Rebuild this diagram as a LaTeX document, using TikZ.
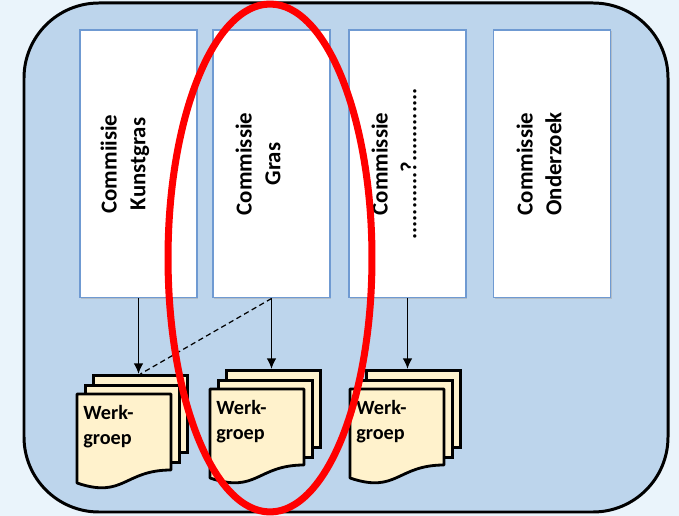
\documentclass[tikz,border=0pt]{standalone}
\usepackage{fontspec}
\setmainfont{Carlito}
\usetikzlibrary{arrows.meta,shadows}

\definecolor{pagebg}{HTML}{EAF4FB}
\definecolor{panelblue}{HTML}{BDD5EC}
\definecolor{boxline}{HTML}{6F9AD2}
\definecolor{docfill}{HTML}{FFF2CC}

\tikzset{
  commbox/.style={draw=boxline, fill=white, line width=0.6pt,
    minimum width=2.34cm, minimum height=5.36cm,
    drop shadow={shadow xshift=0.6pt, shadow yshift=-0.6pt, fill=black!35, opacity=0.5}},
  commtext/.style={rotate=90, align=center, inner sep=0pt,
    font=\bfseries\fontsize{13}{16.4}\selectfont},
  docpage/.style={draw=black, fill=docfill, line width=1.6pt,
    minimum width=1.88cm, minimum height=1.54cm, inner sep=0pt},
  doctext/.style={align=left, inner sep=0pt,
    font=\bfseries\fontsize{11.5}{14.2}\selectfont},
  link/.style={-{Latex[length=6pt,width=5.5pt]}, line width=1.1pt},
}

% name, x, y of the back page (top left)
\newcommand{\werkgroep}[3]{%
  \node[docpage, anchor=north west] (#1) at (#2,#3) {};
  \node[docpage, anchor=north west] (#1-mid) at (#2-8,#3+10) {};
  \draw[draw=black, fill=docfill, line width=1.6pt, line join=round]
    (#2-15,#3+20) -- (#2+79,#3+20) -- (#2+79,#3+96)
    .. controls (#2+32,#3+96) and (#2+32,#3+125) .. (#2-15,#3+109) -- cycle;
  \node[doctext, anchor=north west] (#1-txt) at (#2-9,#3+31) {Werk-\\groep};
}

\begin{document}
\begin{tikzpicture}[x=0.02cm, y=-0.02cm]
  \fill[pagebg] (0,0) rectangle (679,516);
  \useasboundingbox (0,0) rectangle (679,516);
  \draw[fill=panelblue, line width=1.7pt, rounded corners=1.5cm] (24,3) rectangle (668,512);

  % commissies
  \node[commbox] (kunstgras) at (138.5,164) {};
  \node[commbox] (gras) at (271.5,164) {};
  \node[commbox] (leeg) at (407.5,164) {};
  \node[commbox] (onderzoek) at (552,164) {};
  \node[commtext] (kunstgras-txt) at (125,164) {Commiisie\\Kunstgras};
  \node[commtext] (gras-txt) at (258,164) {Commissie\\Gras};
  \node[commtext] (leeg-txt) at (394,164) {Commissie\\...........?............};
  \node[commtext] (onderzoek-txt) at (539,164) {Commissie\\Onderzoek};

  % werkgroepen
  \werkgroep{wg1}{92}{374}
  \werkgroep{wg2}{225}{369}
  \werkgroep{wg3}{365}{369}

  \draw[link] (kunstgras.south) -- (kunstgras.south |- wg1.north);
  \draw[link] (gras.south) -- (gras.south |- wg2.north);
  \draw[link] (leeg.south) -- (leeg.south |- wg3.north);
  \draw[dashed, line width=0.7pt, dash pattern=on 3pt off 2pt] (gras.south) -- (wg1.north);

  \draw[red, line width=4pt] (270,258) ellipse [x radius=2.04cm, y radius=5.08cm];
\end{tikzpicture}
\end{document}
